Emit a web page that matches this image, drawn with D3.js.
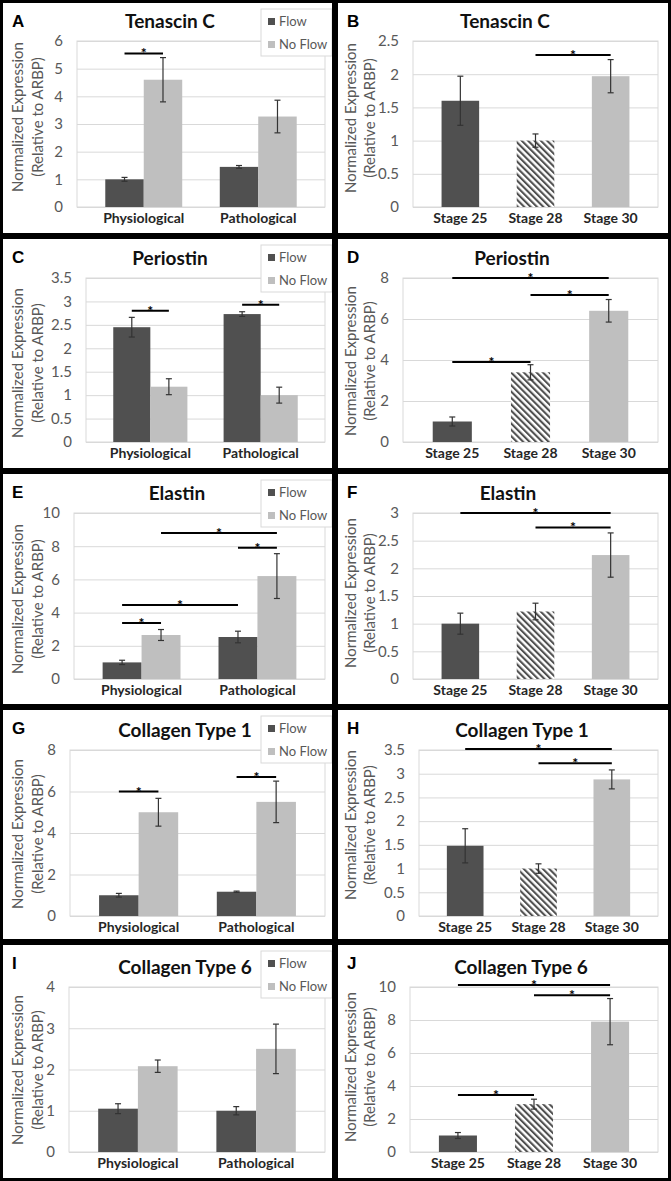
<!DOCTYPE html>
<html>
<head>
<meta charset="utf-8">
<script src="https://cdn.jsdelivr.net/npm/d3@7"></script>
<style>
  body { margin: 0; background: #fff; }
  svg { display: block; }
  text { font-family: Lato, "Open Sans", sans-serif; }
</style>
</head>
<body>
<div id="my_dataviz"></div>
<script>
// categories and series
var conditions = ["Physiological", "Pathological"];
var flowSeries = ["Flow", "No Flow"];
var stages = ["Stage 25", "Stage 28", "Stage 30"];

// A - Tenascin C (flow)
var tncFlow = [1.0, 1.45], tncFlowErr = [0.07, 0.05];
var tncNoFlow = [4.6, 3.27], tncNoFlowErr = [0.8, 0.59];
var tncFlowTicks = [0, 1, 2, 3, 4, 5, 6];
var tncFlowSig = [[0, 0, 0, 1, 5.55]];
// B - Tenascin C (stages)
var tncStage = [1.6, 1.0, 1.97], tncStageErr = [0.37, 0.1, 0.25];
var tncStageTicks = [0, 0.5, 1, 1.5, 2, 2.5];
var tncStageSig = [[1, 2, 2.29]];

// C - Periostin (flow)
var posFlow = [2.45, 2.73], posFlowErr = [0.21, 0.05];
var posNoFlow = [1.18, 1.0], posNoFlowErr = [0.17, 0.17];
var posFlowTicks = [0, 0.5, 1, 1.5, 2, 2.5, 3, 3.5];
var posFlowSig = [[0, 0, 0, 1, 2.8], [1, 0, 1, 1, 2.93]];
// D - Periostin (stages)
var posStage = [1.0, 3.4, 6.4], posStageErr = [0.22, 0.37, 0.55];
var posStageTicks = [0, 2, 4, 6, 8];
var posStageSig = [[0, 2, 8.0], [1, 2, 7.17], [0, 1, 3.9]];

// E - Elastin (flow)
var elnFlow = [1.0, 2.53], elnFlowErr = [0.13, 0.35];
var elnNoFlow = [2.65, 6.2], elnNoFlowErr = [0.33, 1.35];
var elnFlowTicks = [0, 2, 4, 6, 8, 10];
var elnFlowSig = [[0, 0, 0, 1, 3.37], [0, 0, 1, 0, 4.46], [1, 0, 1, 1, 7.9], [0, 1, 1, 1, 8.8]];
// F - Elastin (stages)
var elnStage = [1.0, 1.22, 2.24], elnStageErr = [0.19, 0.15, 0.4];
var elnStageTicks = [0, 0.5, 1, 1.5, 2, 2.5, 3];
var elnStageSig = [[0, 2, 3.0], [1, 2, 2.74]];

// G - Collagen Type 1 (flow)
var col1Flow = [1.0, 1.17], col1FlowErr = [0.09, 0.03];
var col1NoFlow = [5.0, 5.5], col1NoFlowErr = [0.67, 1.0];
var col1FlowTicks = [0, 2, 4, 6, 8];
var col1FlowSig = [[0, 0, 0, 1, 6.0], [1, 0, 1, 1, 6.7]];
// H - Collagen Type 1 (stages)
var col1Stage = [1.48, 1.0, 2.88], col1StageErr = [0.36, 0.1, 0.2];
var col1StageTicks = [0, 0.5, 1, 1.5, 2, 2.5, 3, 3.5];
var col1StageSig = [[0, 2, 3.52], [1, 2, 3.22]];

// I - Collagen Type 6 (flow)
var col6Flow = [1.05, 1.0], col6FlowErr = [0.12, 0.1];
var col6NoFlow = [2.08, 2.5], col6NoFlowErr = [0.15, 0.6];
var col6FlowTicks = [0, 1, 2, 3, 4];
var col6FlowSig = [];
// J - Collagen Type 6 (stages)
var col6Stage = [1.0, 2.9, 7.9], col6StageErr = [0.18, 0.3, 1.4];
var col6StageTicks = [0, 2, 4, 6, 8, 10];
var col6StageSig = [[0, 2, 10.12], [1, 2, 9.5], [0, 1, 3.45]];

// grid of panels
var W = 671, H = 1181;
var colX = [0, 335], colW = [335, 336];
var rowY = [0, 236, 471, 707, 942], rowH = [236, 235, 236, 235, 239];
var rowPlot = [[41, 207], [42, 206], [42, 208], [43, 209], [45, 210]];

var panels = [
  {letter: "A", title: "Tenascin C", kind: "flow", col: 0, row: 0, vals: [tncFlow, tncNoFlow], errs: [tncFlowErr, tncNoFlowErr], ticks: tncFlowTicks, sig: tncFlowSig, left: 77, titleX: 170, labelY: 117},
  {letter: "B", title: "Tenascin C", kind: "stage", col: 1, row: 0, vals: tncStage, errs: tncStageErr, ticks: tncStageTicks, sig: tncStageSig, left: 78, titleX: 170, labelY: 118},
  {letter: "C", title: "Periostin", kind: "flow", col: 0, row: 1, vals: [posFlow, posNoFlow], errs: [posFlowErr, posNoFlowErr], ticks: posFlowTicks, sig: posFlowSig, left: 86, titleX: 170, labelY: 127},
  {letter: "D", title: "Periostin", kind: "stage", col: 1, row: 1, vals: posStage, errs: posStageErr, ticks: posStageTicks, sig: posStageSig, left: 68, titleX: 177, labelY: 125},
  {letter: "E", title: "Elastin", kind: "flow", col: 0, row: 2, vals: [elnFlow, elnNoFlow], errs: [elnFlowErr, elnNoFlowErr], ticks: elnFlowTicks, sig: elnFlowSig, left: 74, titleX: 177, labelY: 128},
  {letter: "F", title: "Elastin", kind: "stage", col: 1, row: 2, vals: elnStage, errs: elnStageErr, ticks: elnStageTicks, sig: elnStageSig, left: 78, titleX: 173, labelY: 122},
  {letter: "G", title: "Collagen Type 1", kind: "flow", col: 0, row: 3, vals: [col1Flow, col1NoFlow], errs: [col1FlowErr, col1NoFlowErr], ticks: col1FlowTicks, sig: col1FlowSig, left: 70, titleX: 185, labelY: 127},
  {letter: "H", title: "Collagen Type 1", kind: "stage", col: 1, row: 3, vals: col1Stage, errs: col1StageErr, ticks: col1StageTicks, sig: col1StageSig, left: 84, titleX: 187, labelY: 118},
  {letter: "I", title: "Collagen Type 6", kind: "flow", col: 0, row: 4, vals: [col6Flow, col6NoFlow], errs: [col6FlowErr, col6NoFlowErr], ticks: col6FlowTicks, sig: col6FlowSig, left: 69, titleX: 185, labelY: 128},
  {letter: "J", title: "Collagen Type 6", kind: "stage", col: 1, row: 4, vals: col6Stage, errs: col6StageErr, ticks: col6StageTicks, sig: col6StageSig, left: 75, titleX: 186, labelY: 125}
];

var dark = "#505050", light = "#bfbfbf", grid = "#d9d9d9", txt = "#595959";

var svg = d3.select("#my_dataviz")
  .append("svg")
    .attr("width", W)
    .attr("height", H)
    .style("background", "#fff");

// diagonal hatch for stage 28
var pat = svg.append("defs").append("pattern")
    .attr("id", "hatch")
    .attr("patternUnits", "userSpaceOnUse")
    .attr("width", 4.5)
    .attr("height", 4.5)
    .attr("patternTransform", "rotate(-45)");
pat.append("rect").attr("width", 4.5).attr("height", 4.5).attr("fill", "#fff");
pat.append("rect").attr("width", 2.1).attr("height", 4.5).attr("fill", dark);

var stageFill = [dark, "url(#hatch)", light];

panels.forEach(function(p) {
  var x0 = colX[p.col], y0 = rowY[p.row], w = colW[p.col], h = rowH[p.row];
  var top = rowPlot[p.row][0], bottom = rowPlot[p.row][1];
  var right = p.col == 0 ? 325 : 323;
  var g = svg.append("g").attr("transform", "translate(" + x0 + "," + y0 + ")");

  var y = d3.scaleLinear()
      .domain([0, p.ticks[p.ticks.length - 1]])
      .range([bottom, top]);

  // plot frame + gridlines
  g.append("rect")
      .attr("x", p.left).attr("y", top)
      .attr("width", right - p.left).attr("height", bottom - top)
      .attr("fill", "none").attr("stroke", grid);
  var yAxis = g.append("g")
      .attr("transform", "translate(" + p.left + ",0)")
      .call(d3.axisLeft(y).tickValues(p.ticks).tickFormat(function(d) { return d; })
        .tickSize(-(right - p.left)).tickPadding(14));
  yAxis.select(".domain").remove();
  yAxis.selectAll("line").attr("stroke", grid);
  yAxis.selectAll("text").attr("fill", txt).style("font-size", "15px");

  // category axis
  var cats = p.kind == "flow" ? conditions : stages;
  var x = d3.scaleBand().domain(cats).range([p.left, right])
      .paddingInner(0).paddingOuter(p.kind == "flow" ? 0.083 : 0.13);
  var xAxis = g.append("g")
      .attr("transform", "translate(0," + bottom + ")")
      .call(d3.axisBottom(x).tickSize(0).tickPadding(6));
  xAxis.select(".domain").remove();
  xAxis.selectAll("text").attr("fill", "#262626")
      .style("font-size", "14px").style("font-weight", "bold");

  // bars: each item {x, w, v, e, fill}
  var items = [];
  var barCenter;
  if (p.kind == "flow") {
    var x1 = d3.scaleBand().domain(flowSeries)
        .range([x.bandwidth() * 0.164, x.bandwidth() * 0.836]);
    flowSeries.forEach(function(s, si) {
      cats.forEach(function(c, ci) {
        items.push({x: x(c) + x1(s), w: x1.bandwidth(), v: p.vals[si][ci], e: p.errs[si][ci], fill: si == 0 ? dark : light});
      });
    });
    barCenter = function(ci, si) { return x(cats[ci]) + x1(flowSeries[si]) + x1.bandwidth() / 2; };
  } else {
    var bw = x.bandwidth() * 0.5;
    cats.forEach(function(c, ci) {
      items.push({x: x(c) + (x.bandwidth() - bw) / 2, w: bw, v: p.vals[ci], e: p.errs[ci], fill: stageFill[ci]});
    });
    barCenter = function(ci) { return x(cats[ci]) + x.bandwidth() / 2; };
  }

  g.selectAll("rect.bar")
    .data(items)
    .enter()
    .append("rect")
      .attr("class", "bar")
      .attr("x", function(d) { return d.x; })
      .attr("y", function(d) { return y(d.v); })
      .attr("width", function(d) { return d.w; })
      .attr("height", function(d) { return bottom - y(d.v); })
      .attr("fill", function(d) { return d.fill; });

  // error bars
  var eb = g.selectAll("g.err").data(items).enter().append("g")
      .attr("stroke", "#333").attr("stroke-width", 1.2);
  eb.append("line")
      .attr("x1", function(d) { return d.x + d.w / 2; })
      .attr("x2", function(d) { return d.x + d.w / 2; })
      .attr("y1", function(d) { return y(d.v + d.e); })
      .attr("y2", function(d) { return y(d.v - d.e); });
  [1, -1].forEach(function(sign) {
    eb.append("line")
        .attr("x1", function(d) { return d.x + d.w / 2 - 3; })
        .attr("x2", function(d) { return d.x + d.w / 2 + 3; })
        .attr("y1", function(d) { return y(d.v + sign * d.e); })
        .attr("y2", function(d) { return y(d.v + sign * d.e); });
  });

  // significance lines
  p.sig.forEach(function(s) {
    var xa, xb, val;
    if (p.kind == "flow") { xa = barCenter(s[0], s[1]); xb = barCenter(s[2], s[3]); val = s[4]; }
    else { xa = barCenter(s[0]); xb = barCenter(s[1]); val = s[2]; }
    g.append("line")
        .attr("x1", xa).attr("x2", xb)
        .attr("y1", y(val)).attr("y2", y(val))
        .attr("stroke", "#000").attr("stroke-width", 2);
    g.append("text")
        .attr("x", (xa + xb) / 2).attr("y", y(val) + 5)
        .attr("text-anchor", "middle")
        .style("font-size", "14px").style("font-weight", "bold")
        .text("*");
  });

  // legend
  if (p.kind == "flow") {
    var lg = g.append("g");
    lg.append("rect").attr("x", 261).attr("y", 9).attr("width", 71).attr("height", 47)
        .attr("fill", "#fff").attr("stroke", grid);
    flowSeries.forEach(function(s, i) {
      lg.append("rect").attr("x", 268).attr("y", 18 + i * 23).attr("width", 7).attr("height", 7)
          .attr("fill", i == 0 ? dark : light);
      lg.append("text").attr("x", 279).attr("y", 26 + i * 23)
          .attr("fill", txt).style("font-size", "13px").text(s);
    });
  }

  // title, panel letter, y label
  g.append("text").attr("x", p.titleX).attr("y", top - 13)
      .attr("text-anchor", "middle").attr("fill", "#111")
      .style("font-size", "19px").style("font-weight", "bold").text(p.title);
  g.append("text").attr("x", 12).attr("y", 27)
      .style("font-family", "Arial, 'Liberation Sans', sans-serif")
      .style("font-size", "17px").style("font-weight", "bold").text(p.letter);
  var lx = p.col == 0 ? [17, 37] : [15, 34];
  ["Normalized Expression", "(Relative to ARBP)"].forEach(function(t, i) {
    g.append("text")
        .attr("transform", "translate(" + lx[i] + "," + p.labelY + ") rotate(-90)")
        .attr("text-anchor", "middle").attr("dominant-baseline", "central")
        .attr("fill", txt).style("font-size", "15px").text(t);
  });

  // panel border
  g.append("rect").attr("x", 1.5).attr("y", 1.5).attr("width", w - 3).attr("height", h - 3)
      .attr("fill", "none").attr("stroke", "#000").attr("stroke-width", 3);
});
</script>
</body>
</html>
